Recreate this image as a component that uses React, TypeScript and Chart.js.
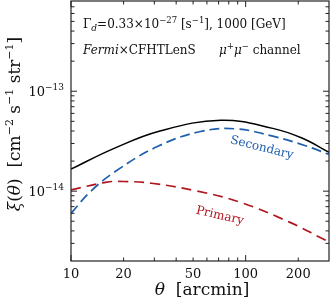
import React, { useEffect, useRef } from "react";
import { Chart, registerables } from "chart.js";
Chart.register(...registerables);

// ---- data ----
const totalTheta = [10, 17.4, 32.3, 72, 143, 210, 300];
const totalXi = [1.66e-14, 2.65e-14, 4.0e-14, 5.12e-14, 4.25e-14, 3.4e-14, 2.45e-14];
const secondaryTheta = [10, 13, 18, 31, 55, 88, 143, 220, 300];
const secondaryXi = [6.0e-15, 1.0e-14, 1.58e-14, 2.78e-14, 3.95e-14, 4.2e-14, 3.55e-14, 2.85e-14, 2.33e-14];
const primaryTheta = [10, 16, 20, 28.9, 53, 92, 178, 276, 300];
const primaryXi = [1.03e-14, 1.23e-14, 1.25e-14, 1.2e-14, 1.0e-14, 7.8e-15, 4.9e-15, 3.34e-15, 3.1e-15];

const xRange = [10, 300];
const yRange = [2e-15, 8e-13];
const xMajorTicks = [10, 100];
const xMinorTicks = [20, 30, 40, 50, 60, 70, 80, 90, 200];
const xTickLabels = [10, 20, 50, 100, 200];
const yMajorTicks = [1e-14, 1e-13];
const yMinorTicks = [
  3e-15, 4e-15, 5e-15, 6e-15, 7e-15, 8e-15, 9e-15,
  2e-14, 3e-14, 4e-14, 5e-14, 6e-14, 7e-14, 8e-14, 9e-14,
  2e-13, 3e-13, 4e-13, 5e-13, 6e-13, 7e-13,
];
const yTickExponents = [-14, -13];

const labelSecondary = "Secondary";
const labelPrimary = "Primary";
const channelText = " channel";
const surveyText = "×CFHTLenS";

const BLUE = "#1f5fae";
const RED = "#b0161e";
const SERIF = "'DejaVu Serif', serif";

type Part = { t: string; size: number; italic?: boolean; dy?: number };

function richWidth(ctx: CanvasRenderingContext2D, parts: Part[]) {
  let w = 0;
  for (const p of parts) {
    ctx.font = `${p.italic ? "italic " : ""}${p.size}px ${SERIF}`;
    w += ctx.measureText(p.t).width;
  }
  return w;
}

function drawRich(
  ctx: CanvasRenderingContext2D,
  parts: Part[],
  x: number,
  y: number,
  align: "left" | "center" | "right",
  color: string
) {
  const w = richWidth(ctx, parts);
  let cx = align === "left" ? x : align === "center" ? x - w / 2 : x - w;
  ctx.fillStyle = color;
  ctx.textBaseline = "alphabetic";
  ctx.textAlign = "left";
  for (const p of parts) {
    ctx.font = `${p.italic ? "italic " : ""}${p.size}px ${SERIF}`;
    ctx.fillText(p.t, cx, y + (p.dy || 0));
    cx += ctx.measureText(p.t).width;
  }
}

const decorPlugin = {
  id: "decor",
  afterDatasetsDraw(chart: any) {
    const ctx: CanvasRenderingContext2D = chart.ctx;
    const { left, right, top, bottom } = chart.chartArea;
    const xs = chart.scales.x;
    const ys = chart.scales.y;
    ctx.save();
    // frame
    ctx.strokeStyle = "#222";
    ctx.lineWidth = 1.2;
    ctx.strokeRect(left, top, right - left, bottom - top);
    // ticks
    ctx.lineWidth = 1;
    const tick = (x1: number, y1: number, x2: number, y2: number) => {
      ctx.beginPath();
      ctx.moveTo(x1, y1);
      ctx.lineTo(x2, y2);
      ctx.stroke();
    };
    for (const v of xMajorTicks) {
      const px = xs.getPixelForValue(v);
      tick(px, bottom, px, bottom - 6);
      tick(px, top, px, top + 6);
    }
    for (const v of xMinorTicks) {
      const px = xs.getPixelForValue(v);
      tick(px, bottom, px, bottom - 3.5);
      tick(px, top, px, top + 3.5);
    }
    for (const v of yMajorTicks) {
      const py = ys.getPixelForValue(v);
      tick(left, py, left + 6, py);
      tick(right, py, right - 6, py);
    }
    for (const v of yMinorTicks) {
      const py = ys.getPixelForValue(v);
      tick(left, py, left + 3.5, py);
      tick(right, py, right - 3.5, py);
    }
    // x tick labels
    ctx.fillStyle = "#111";
    ctx.font = `13px ${SERIF}`;
    ctx.textAlign = "center";
    ctx.textBaseline = "alphabetic";
    for (const v of xTickLabels) {
      ctx.fillText(String(v), xs.getPixelForValue(v), bottom + 17);
    }
    // y tick labels
    yTickExponents.forEach((e) => {
      const py = ys.getPixelForValue(Math.pow(10, e));
      drawRich(
        ctx,
        [
          { t: "10", size: 13 },
          { t: "\u2212" + Math.abs(e), size: 9, dy: -6 },
        ],
        left - 7,
        py + 5,
        "right",
        "#111"
      );
    });
    // x axis title
    drawRich(
      ctx,
      [
        { t: "θ", size: 17, italic: true },
        { t: "  [arcmin]", size: 17 },
      ],
      (left + right) / 2 + 2,
      bottom + 34,
      "center",
      "#111"
    );
    // y axis title
    ctx.save();
    ctx.translate(20, 124);
    ctx.rotate(-Math.PI / 2);
    drawRich(
      ctx,
      [
        { t: "ξ", size: 17, italic: true },
        { t: "(", size: 17 },
        { t: "θ", size: 17, italic: true },
        { t: ")  [cm", size: 17 },
        { t: "\u22122", size: 11, dy: -7 },
        { t: " s", size: 17 },
        { t: "\u22121", size: 11, dy: -7 },
        { t: " str", size: 17 },
        { t: "\u22121", size: 11, dy: -7 },
        { t: "]", size: 17 },
      ],
      0,
      0,
      "center",
      "#111"
    );
    ctx.restore();
    // annotations
    drawRich(
      ctx,
      [
        { t: "Γ", size: 12 },
        { t: "d", size: 9, italic: true, dy: 3 },
        { t: "=0.33×10", size: 12 },
        { t: "\u221227", size: 8.5, dy: -5 },
        { t: " [s", size: 12 },
        { t: "\u22121", size: 8.5, dy: -5 },
        { t: "], 1000 [GeV]", size: 12 },
      ],
      83,
      28,
      "left",
      "#111"
    );
    drawRich(
      ctx,
      [
        { t: "Fermi", size: 12, italic: true },
        { t: surveyText, size: 12 },
      ],
      83,
      54,
      "left",
      "#111"
    );
    drawRich(
      ctx,
      [
        { t: "μ", size: 12, italic: true },
        { t: "+", size: 8.5, dy: -5 },
        { t: "μ", size: 12, italic: true },
        { t: "\u2212", size: 8.5, dy: -5 },
        { t: channelText, size: 12 },
      ],
      219,
      54,
      "left",
      "#111"
    );
    // curve labels
    ctx.save();
    ctx.translate(262, 147);
    ctx.rotate((14 * Math.PI) / 180);
    drawRich(ctx, [{ t: labelSecondary, size: 12 }], 0, 4, "center", BLUE);
    ctx.restore();
    ctx.save();
    ctx.translate(220, 215);
    ctx.rotate((13 * Math.PI) / 180);
    drawRich(ctx, [{ t: labelPrimary, size: 12 }], 0, 4, "center", RED);
    ctx.restore();
    ctx.restore();
  },
};

function toPoints(xs: number[], ys: number[]) {
  return xs.map((x, i) => ({ x, y: ys[i] }));
}

export default function App() {
  const ref = useRef<HTMLCanvasElement | null>(null);
  useEffect(() => {
    if (!ref.current) return;
    const chart = new Chart(ref.current, {
      type: "line",
      data: {
        datasets: [
          {
            data: toPoints(totalTheta, totalXi),
            borderColor: "#000",
            borderWidth: 1.5,
            pointRadius: 0,
            tension: 0.4,
            fill: false,
          },
          {
            data: toPoints(secondaryTheta, secondaryXi),
            borderColor: BLUE,
            borderWidth: 1.7,
            borderDash: [10, 5],
            pointRadius: 0,
            tension: 0.4,
            fill: false,
          },
          {
            data: toPoints(primaryTheta, primaryXi),
            borderColor: RED,
            borderWidth: 1.7,
            borderDash: [10, 6],
            pointRadius: 0,
            tension: 0.4,
            fill: false,
          },
        ],
      },
      options: {
        animation: false,
        responsive: false,
        layout: { padding: { left: 71, top: 1, right: 3, bottom: 42 } },
        plugins: { legend: { display: false }, tooltip: { enabled: false } },
        scales: {
          x: { type: "logarithmic", min: xRange[0], max: xRange[1], display: false },
          y: { type: "logarithmic", min: yRange[0], max: yRange[1], display: false },
        },
      } as any,
      plugins: [decorPlugin],
    });
    return () => chart.destroy();
  }, []);
  return (
    <div style={{ position: "absolute", left: 0, top: 0, width: 332, height: 303, background: "#fff" }}>
      <canvas ref={ref} width={332} height={303} />
    </div>
  );
}
